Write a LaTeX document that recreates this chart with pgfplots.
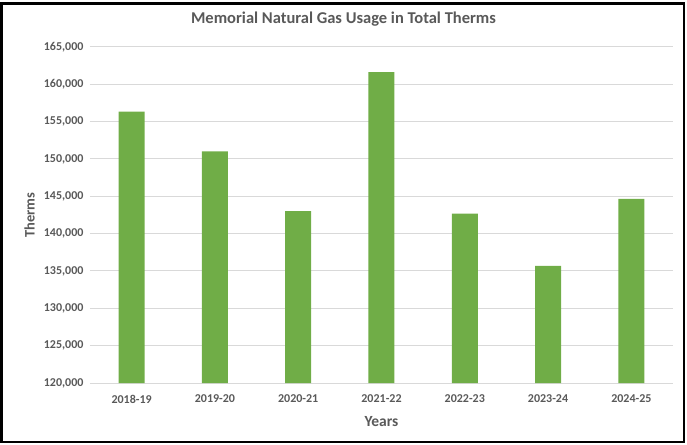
\documentclass[border=0pt]{standalone}
\usepackage{pgfplots}
\pgfplotsset{compat=1.18}
\usepackage{fontspec}
\setmainfont{Carlito}
\definecolor{bargreen}{HTML}{70AD47}
\definecolor{txt}{HTML}{595959}
\definecolor{gridc}{HTML}{D9D9D9}
\begin{document}
\begin{tikzpicture}
\begin{axis}[
  scale only axis, width=583bp, height=336bp,
  ymin=120000, ymax=165000, ytick distance=5000,
  xmin=-0.5, xmax=6.5,
  xtick=data,
  xticklabels={2018-19,2019-20,2020-21,2021-22,2022-23,2023-24,2024-25},
  ybar, bar width=26bp,
  axis line style={draw=none},
  tick style={draw=none},
  ymajorgrids, grid style={gridc, line width=1bp},
  /pgf/number format/.cd, fixed, 1000 sep={,}, assume math mode=true,
  /pgfplots/.cd,
  scaled y ticks=false,
  ticklabel style={font=\bfseries\fontsize{12bp}{14bp}\selectfont, text=txt},
  yticklabel style={anchor=east, xshift=-3bp},
  xticklabel style={anchor=north, yshift=-4bp},
  xlabel={Years}, ylabel={Therms},
  xlabel style={font=\bfseries\fontsize{15.5bp}{18bp}\selectfont, text=txt, at={(axis description cs:0.5,-0.114)}, anchor=center},
  ylabel style={font=\bfseries\fontsize{14.5bp}{17bp}\selectfont, text=txt, at={(axis description cs:-0.1035,0.5)}, anchor=center, rotate=0},
  title={Memorial Natural Gas Usage in Total Therms},
  title style={font=\bfseries\fontsize{16.5bp}{19bp}\selectfont, text=txt, at={(axis description cs:0.4348,1.064)}, anchor=center},
]
\addplot[fill=bargreen, draw=none] coordinates {
  (0,156340) (1,151030) (2,143030) (3,161650) (4,142680) (5,135670) (6,144650)
};
\end{axis}
\draw[line width=2.5bp, black] (-88.5bp,-59bp) rectangle (594bp,379.5bp);
\pgfresetboundingbox
\path (-90bp,-62bp) rectangle (597bp,383bp);
\end{tikzpicture}
\end{document}
